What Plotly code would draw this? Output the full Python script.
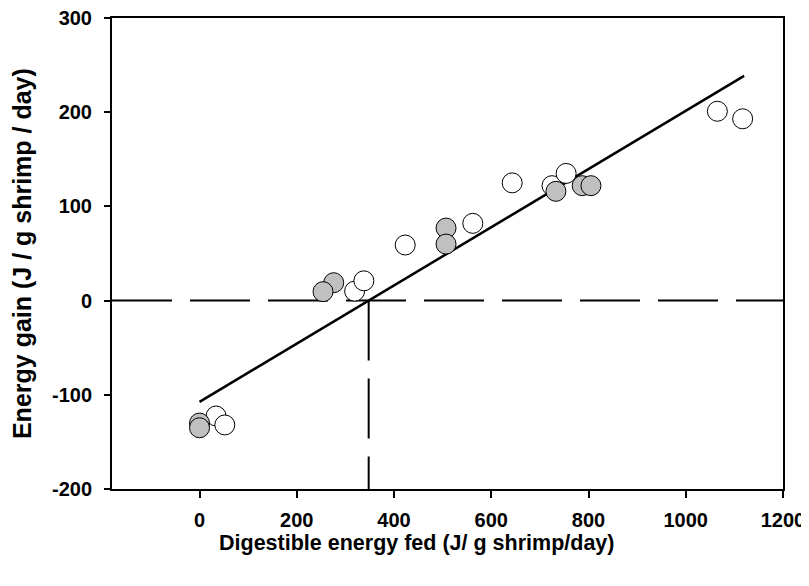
import plotly.graph_objects as go

# Data
open_x = [34, 52, 319, 338, 423, 562, 643, 725, 754, 1065, 1117]
open_y = [-122.5, -132, 10, 21, 59, 82, 125, 122, 135, 201, 193]

gray_x = [0, 0, 276, 254, 507, 507, 733, 787, 805]
gray_y = [-130, -135, 19, 9.5, 77, 60, 116, 122, 122]

fit_intercept = -107.5
fit_slope = 0.309
fit_x_range = [0, 1120]

x_ticks = [0, 200, 400, 600, 800, 1000, 1200]
x_tick_text = ["0", "200", "400", "600", "800", "1000", "1200"]
y_ticks = [-200, -100, 0, 100, 200, 300]
y_tick_text = ["-200", "-100", "0", "100", "200", "300"]
x_range = [-180, 1200]
y_range = [-200, 300]

x_title = "Digestible energy fed (J/ g shrimp/day)"
y_title = "Energy gain (J / g shrimp / day)"

x_intercept = -fit_intercept / fit_slope
fit_y = [fit_intercept + fit_slope * v for v in fit_x_range]

FONT = "Arial, Liberation Sans, sans-serif"

fig = go.Figure()

fig.add_trace(go.Scatter(x=x_range, y=[0, 0], mode="lines",
                         line=dict(color="black", width=2, dash="60px,18px"),
                         hoverinfo="skip", showlegend=False))
fig.add_trace(go.Scatter(x=[x_intercept, x_intercept], y=[0, y_range[0]], mode="lines",
                         line=dict(color="black", width=2, dash="60px,18px"),
                         hoverinfo="skip", showlegend=False))
fig.add_trace(go.Scatter(x=fit_x_range, y=fit_y, mode="lines",
                         line=dict(color="black", width=2.5),
                         hoverinfo="skip", showlegend=False))

fig.add_trace(go.Scatter(x=open_x, y=open_y, mode="markers",
                         marker=dict(size=20, color="white",
                                     line=dict(color="black", width=1)),
                         showlegend=False))
fig.add_trace(go.Scatter(x=gray_x, y=gray_y, mode="markers",
                         marker=dict(size=20, color="#c0c0c0",
                                     line=dict(color="black", width=1)),
                         showlegend=False))

# The page body has an 8px default margin, so the figure is 8px smaller
fig.update_layout(
    width=801, height=578,
    margin=dict(l=104, r=26, t=10, b=97),
    paper_bgcolor="white", plot_bgcolor="white",
    font=dict(family=FONT, color="black"),
    annotations=[
        dict(text="<b>" + x_title + "</b>", xref="paper", yref="paper",
             x=0.4545, y=-0.1146, xanchor="center", yanchor="middle",
             showarrow=False, font=dict(size=21.5, family=FONT, color="black")),
        dict(text="<b>" + y_title + "</b>", xref="paper", yref="paper",
             x=-0.134, y=0.499, xanchor="center", yanchor="middle", textangle=-90,
             showarrow=False, font=dict(size=25, family=FONT, color="black")),
    ],
)
fig.update_xaxes(
    range=x_range, tickvals=x_ticks, ticktext=["<b>%s</b>" % t for t in x_tick_text],
    ticks="outside", ticklen=7, tickwidth=1.5,
    tickcolor="black", showline=True, linewidth=2, linecolor="black", mirror=True,
    showgrid=False, zeroline=False, automargin=False, ticklabeloverflow="allow",
    tickfont=dict(size=20, family=FONT), ticklabelstandoff=5,
)
fig.update_yaxes(
    range=y_range, tickvals=y_ticks, ticktext=["<b>%s</b>" % t for t in y_tick_text],
    ticks="outside", ticklen=6, tickwidth=1.5,
    tickcolor="black", showline=True, linewidth=2, linecolor="black", mirror=True,
    showgrid=False, zeroline=False, automargin=False, ticklabeloverflow="allow",
    tickfont=dict(size=20, family=FONT), ticklabelstandoff=8,
)

fig.write_html("out.html")
